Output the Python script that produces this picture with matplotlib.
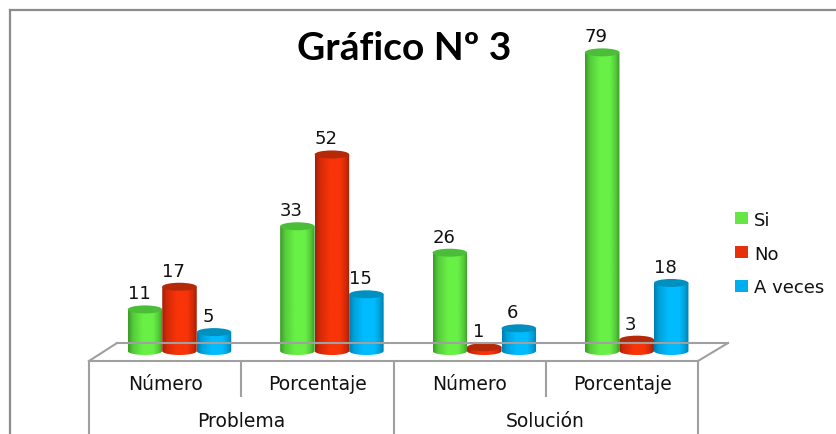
import numpy as np
import matplotlib
matplotlib.use('Agg')
import matplotlib.pyplot as plt
from matplotlib.colors import LinearSegmentedColormap
from matplotlib.lines import Line2D
from matplotlib.patches import Ellipse, Patch, PathPatch
from matplotlib.path import Path
from matplotlib.transforms import Affine2D

# Дані
tipos = ['Número', 'Porcentaje', 'Número', 'Porcentaje']
grupos = ['Problema', 'Solución']
si = [11, 33, 26, 79]
no = [17, 52, 1, 3]
a_veces = [5, 15, 6, 18]

W, H = 836, 435
PX_X = 152.4   # пікселів на одну категорію
PX_Y = 3.78    # пікселів на одиницю значення
X0, Y0 = 179.5, 352
BAR_W = 34.5 / PX_X
CAP_H = 8 / PX_Y

# (край, проміжний, центр, кришка, легенда)
estilos = [
    ('Si', si, '#3D9A2B', '#55CC3A', '#68F046', '#4CBD38', '#66E544'),
    ('No', no, '#A32008', '#D42A08', '#F83408', '#B42A08', '#E6300A'),
    ('A veces', a_veces, '#007FAE', '#00A2DC', '#00BCFF', '#0090C0', '#00AEEF'),
]

fig = plt.figure(figsize=(W / 100, H / 100), dpi=100)
ax = fig.add_axes([0, 0, 1, 1])
ax.axis('off')
xlim = (-X0 / PX_X, (W - X0) / PX_X)
ylim = ((Y0 - H) / PX_Y, Y0 / PX_Y)

# трансформація у пікселях для рамки та підлоги
px = Affine2D().scale(1 / W, -1 / H).translate(0, 1) + fig.transFigure


def linea(xs, ys, color='#A0A0A0', lw=1.5):
    fig.add_artist(Line2D(xs, ys, transform=px, color=color, lw=lw, zorder=1))


def texto_px(x, y, s, **kw):
    fig.text(x / W, 1 - y / H, s, ha='center', va='center', **kw)


def cilindro(x, valor, borde, medio, centro, tapa):
    cmap = LinearSegmentedColormap.from_list('c', [(0, borde), (0.14, medio), (0.42, centro), (0.72, centro), (0.88, medio), (1, borde)])
    left, right = x - BAR_W / 2, x + BAR_W / 2
    t = np.linspace(np.pi, 2 * np.pi, 30)
    xs = x + np.cos(t) * BAR_W / 2
    ys = np.sin(t) * CAP_H / 2
    verts = list(zip(xs, ys)) + [(right, valor), (left, valor), (left, 0)]
    clip = PathPatch(Path(verts), transform=ax.transData, fc='none', ec='none')
    ax.add_patch(clip)
    im = ax.imshow(np.linspace(0, 1, 64).reshape(1, -1), cmap=cmap, aspect='auto',
                   extent=(left, right, -CAP_H, valor), zorder=3, interpolation='bilinear')
    im.set_clip_path(clip)
    ax.add_patch(Ellipse((x, valor), BAR_W, CAP_H, fc=tapa, ec='none', zorder=4))
    ax.annotate(str(valor), (x, valor), xytext=(-6, 16), textcoords='offset pixels',
                ha='center', va='center', fontsize=13, color='#111111', zorder=5)


# рамка
linea([10, 10], [11, H], '#8C8C8C', 1.6)
linea([10, W], [11, 11], '#8C8C8C', 1.6)

# підлога
linea([117, 728], [344, 344])
linea([89, 698], [362, 362])
linea([89, 117], [362, 344])
linea([698, 728], [362, 344])
for x in (89, 393.5, 698):
    linea([x, x], [362, H])
for x in (241, 545.5):
    linea([x, x], [362, 397])

# стовпчики
pos = np.arange(len(tipos))
for j, (nombre, valores, borde, medio, centro, tapa, _) in enumerate(estilos):
    for i, v in enumerate(valores):
        cilindro(pos[i] + (j - 1) * BAR_W, v, borde, medio, centro, tapa)

ax.set_xlim(xlim)
ax.set_ylim(ylim)

# підписи категорій
for i, t in enumerate(tipos):
    texto_px(X0 - 14.5 + PX_X * i, 385, t, fontsize=13.5, color='#111111')
for i, g in enumerate(grupos):
    texto_px(241 + 304.5 * i, 422, g, fontsize=13.5, color='#111111')

fig.text(404 / W, 1 - 48 / H, 'Gráfico Nº 3', ha='center', va='center',
         fontsize=28, fontweight='bold', family='Lato', color='black')

# легенда
handles = [Patch(fc=e[6], ec='none', label=e[0]) for e in estilos]
ax.legend(handles=handles, loc='upper left', bbox_to_anchor=(722.4 / W, 1 - 199 / H), frameon=False,
          fontsize=13, labelspacing=0.88, handlelength=0.72, handleheight=0.61,
          handletextpad=0.33, borderpad=0.2, labelcolor='#111111')

fig.savefig('out.png', dpi=100)
